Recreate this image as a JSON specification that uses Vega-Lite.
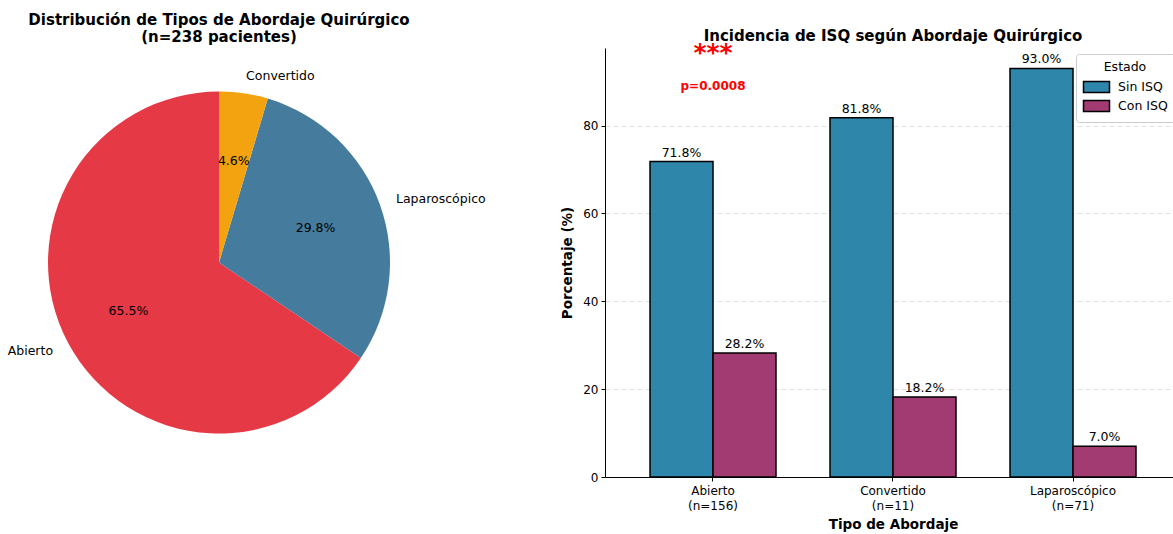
{
  "$schema": "https://vega.github.io/schema/vega-lite/v6.json",
  "autosize": {"type": "none"},
  "padding": {"left": 0, "top": 48, "right": 0, "bottom": 57},
  "params": [
    {"name": "width", "value": 1173},
    {"name": "height", "value": 429}
  ],
  "config": {
    "font": "DejaVu Sans",
    "view": {"stroke": null},
    "concat": {"spacing": 167}
  },
  "bounds": "flush",
  "resolve": {"scale": {"color": "independent", "x": "independent", "y": "independent", "theta": "independent"}},
  "hconcat": [
    {
      "width": 438,
      "height": 429,
      "title": {
        "text": ["Distribución de Tipos de Abordaje Quirúrgico", "(n=238 pacientes)"],
        "fontSize": 15,
        "fontWeight": "bold",
        "color": "#000000",
        "anchor": "middle",
        "frame": "group",
        "baseline": "bottom",
        "lineHeight": 17,
        "offset": -12
      },
      "data": {
        "values": [
          {"abordaje": "Abierto", "pacientes": 156, "fraccion": 0.655},
          {"abordaje": "Laparoscópico", "pacientes": 71, "fraccion": 0.298},
          {"abordaje": "Convertido", "pacientes": 11, "fraccion": 0.046}
        ]
      },
      "encoding": {
        "theta": {"field": "fraccion", "type": "quantitative", "stack": true},
        "order": {"field": "fraccion", "sort": "ascending"}
      },
      "layer": [
        {
          "mark": {"type": "arc", "outerRadius": 171},
          "encoding": {
            "color": {
              "field": "abordaje",
              "type": "nominal",
              "scale": {
                "domain": ["Abierto", "Laparoscópico", "Convertido"],
                "range": ["#E63946", "#457B9D", "#F2A30F"]
              },
              "legend": null
            }
          }
        },
        {
          "mark": {"type": "text", "radius": 102.6, "fontSize": 12.5, "color": "#000000", "baseline": "middle"},
          "encoding": {"text": {"field": "fraccion", "type": "quantitative", "format": ".1%"}}
        },
        {
          "mark": {"type": "text", "radius": 188, "fontSize": 12.5, "color": "#000000", "align": "left", "baseline": "middle"},
          "encoding": {
            "text": {"condition": {"test": "datum.abordaje !== 'Abierto'", "field": "abordaje"}, "value": ""}
          }
        },
        {
          "mark": {"type": "text", "radius": 188, "fontSize": 12.5, "color": "#000000", "align": "right", "baseline": "middle"},
          "encoding": {
            "text": {"condition": {"test": "datum.abordaje === 'Abierto'", "field": "abordaje"}, "value": ""}
          }
        }
      ]
    },
    {
      "width": 568,
      "height": 429,
      "title": {
        "text": "Incidencia de ISQ según Abordaje Quirúrgico",
        "fontSize": 15,
        "fontWeight": "bold",
        "color": "#000000",
        "anchor": "middle",
        "frame": "group",
        "baseline": "alphabetic",
        "dx": 4,
        "offset": -15
      },
      "layer": [
        {
          "data": {
            "values": [
              {"abordaje": "Abierto|(n=156)", "estado": "Sin ISQ", "porcentaje": 71.8},
              {"abordaje": "Abierto|(n=156)", "estado": "Con ISQ", "porcentaje": 28.2},
              {"abordaje": "Convertido|(n=11)", "estado": "Sin ISQ", "porcentaje": 81.8},
              {"abordaje": "Convertido|(n=11)", "estado": "Con ISQ", "porcentaje": 18.2},
              {"abordaje": "Laparoscópico|(n=71)", "estado": "Sin ISQ", "porcentaje": 93.0},
              {"abordaje": "Laparoscópico|(n=71)", "estado": "Con ISQ", "porcentaje": 7.0}
            ]
          },
          "transform": [
            {"calculate": "format(datum.porcentaje, '.1f') + '%'", "as": "etiqueta"}
          ],
          "encoding": {
            "x": {
              "field": "abordaje",
              "type": "nominal",
              "scale": {
                "domain": ["Abierto|(n=156)", "Convertido|(n=11)", "Laparoscópico|(n=71)"],
                "range": [0, 576],
                "paddingInner": 0.3,
                "paddingOuter": 0.25
              },
              "axis": {
                "title": "Tipo de Abordaje",
                "titleFontSize": 13.5,
                "titleFontWeight": "bold",
                "titleColor": "#000000",
                "titlePadding": 6,
                "labelExpr": "split(datum.label, '|')",
                "labelAngle": 0,
                "labelFontSize": 12,
                "labelColor": "#000000",
                "labelLineHeight": 15,
                "labelPadding": 4,
                "tickSize": 4,
                "tickColor": "#000000",
                "domainColor": "#000000",
                "grid": false
              }
            },
            "xOffset": {
              "field": "estado",
              "type": "nominal",
              "sort": ["Sin ISQ", "Con ISQ"],
              "scale": {"paddingInner": 0, "paddingOuter": 0}
            },
            "y": {
              "field": "porcentaje",
              "type": "quantitative",
              "scale": {"domain": [0, 97.65], "nice": false},
              "axis": {
                "title": "Porcentaje (%)",
                "titleFontSize": 13.5,
                "titleFontWeight": "bold",
                "titleColor": "#000000",
                "titlePadding": 8,
                "values": [0, 20, 40, 60, 80],
                "labelFontSize": 12,
                "labelColor": "#000000",
                "labelPadding": 3,
                "tickSize": 4,
                "tickColor": "#000000",
                "domainColor": "#000000",
                "grid": true,
                "gridColor": "#d9d9d9",
                "gridDash": [5, 3],
                "gridWidth": 0.8
              }
            }
          },
          "layer": [
            {
              "mark": {"type": "bar", "stroke": "#000000", "strokeWidth": 1.5},
              "encoding": {
                "color": {
                  "field": "estado",
                  "type": "nominal",
                  "sort": ["Sin ISQ", "Con ISQ"],
                  "scale": {"domain": ["Sin ISQ", "Con ISQ"], "range": ["#2E86AB", "#A23B72"]},
                  "legend": {
                    "title": "Estado",
                    "orient": "none",
                    "legendX": 471,
                    "legendY": 6,
                    "titleAnchor": "middle",
                    "titleFontSize": 12.5,
                    "titleFontWeight": "normal",
                    "titleColor": "#000000",
                    "titlePadding": 6,
                    "labelFontSize": 12.5,
                    "labelColor": "#000000",
                    "labelOffset": 14,
                    "symbolType": "M-2,-0.84H2V0.84H-2Z",
                    "symbolSize": 169,
                    "symbolOffset": 6,
                    "symbolStrokeColor": "#000000",
                    "symbolStrokeWidth": 1.5,
                    "symbolOpacity": 1,
                    "rowPadding": 2,
                    "padding": 7,
                    "strokeColor": "#cccccc",
                    "fillColor": "#ffffff",
                    "cornerRadius": 3
                  }
                }
              }
            },
            {
              "mark": {"type": "text", "baseline": "alphabetic", "dy": -5, "fontSize": 12.5, "color": "#000000"},
              "encoding": {"text": {"field": "etiqueta"}}
            }
          ]
        },
        {
          "data": {"values": [{"abordaje": "Abierto|(n=156)", "texto": "***"}]},
          "mark": {"type": "text", "fontSize": 25, "fontWeight": "bold", "color": "#ff0000", "baseline": "alphabetic"},
          "encoding": {
            "x": {"field": "abordaje", "type": "nominal"},
            "y": {"datum": 94.8},
            "text": {"field": "texto"}
          }
        },
        {
          "data": {"values": [{"abordaje": "Abierto|(n=156)", "texto": "p=0.0008"}]},
          "mark": {"type": "text", "fontSize": 12, "fontWeight": "bold", "color": "#ff0000", "baseline": "alphabetic"},
          "encoding": {
            "x": {"field": "abordaje", "type": "nominal"},
            "y": {"datum": 88},
            "text": {"field": "texto"}
          }
        },
        {
          "mark": {"type": "rule", "color": "#000000", "strokeWidth": 1},
          "encoding": {"y": {"datum": 97.65}}
        }
      ]
    }
  ]
}
